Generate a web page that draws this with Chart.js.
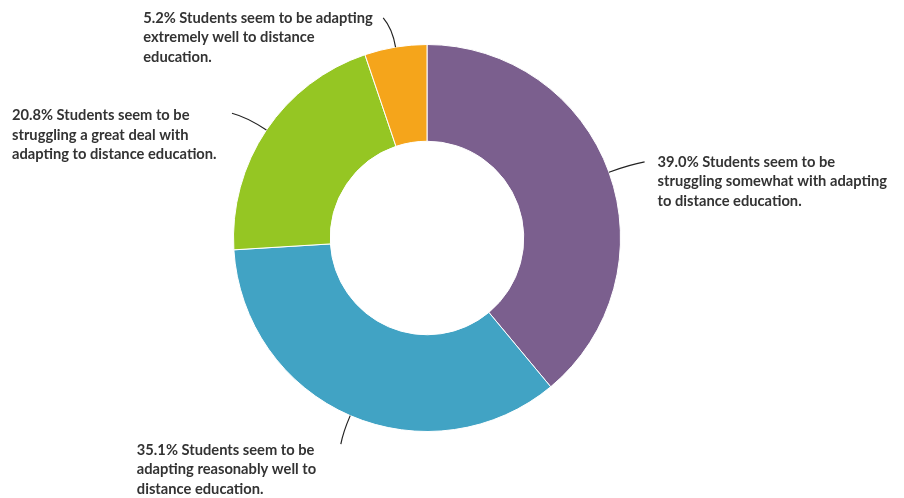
<!DOCTYPE html>
<html>
<head>
<meta charset="utf-8">
<script src="https://cdn.jsdelivr.net/npm/chart.js@4.4.1/dist/chart.umd.min.js"></script>
<style>
  html, body { margin: 0; padding: 0; background: #fff; }
  #wrap { width: 904px; height: 498px; }
</style>
</head>
<body>
<div id="wrap"><canvas id="donut"></canvas></div>
<script>
const categories = [
  ["Students seem to be", "struggling somewhat with adapting", "to distance education."],
  ["Students seem to be", "adapting reasonably well to", "distance education."],
  ["Students seem to be", "struggling a great deal with", "adapting to distance education."],
  ["Students seem to be adapting", "extremely well to distance", "education."]
];
const shares = [39.0, 35.1, 20.8, 5.2];
const colors = ["#7B5F8E", "#41A3C4", "#95C623", "#F5A51B"];

// leader end: angle offset (deg) and extra radius; label offset from leader end
const labelLayout = [
  { da: 0.6, dr: 37, dx: 13, dy: 0 },
  { da: -0.7, dr: 30, dx: -204, dy: 6 },
  { da: -1.3, dr: 38, dx: -220, dy: 2 },
  { da: -1.9, dr: 31, dx: -240, dy: 0 }
];

const leaderLabels = {
  id: 'leaderLabels',
  afterDatasetsDraw(chart) {
    const ctx = chart.ctx;
    const arcs = chart.getDatasetMeta(0).data;
    ctx.save();
    ctx.font = 'bold 14.7px Lato, "Open Sans", sans-serif';
    ctx.textBaseline = 'middle';
    ctx.textAlign = 'left';
    arcs.forEach((arc, i) => {
      const lay = labelLayout[i];
      const mid = (arc.startAngle + arc.endAngle) / 2;
      const r = arc.outerRadius;
      const sx = arc.x + Math.cos(mid) * r, sy = arc.y + Math.sin(mid) * r;
      const cx = arc.x + Math.cos(mid) * (r + lay.dr * 0.6), cy = arc.y + Math.sin(mid) * (r + lay.dr * 0.6);
      const ea = mid + lay.da * Math.PI / 180;
      const ex = arc.x + Math.cos(ea) * (r + lay.dr), ey = arc.y + Math.sin(ea) * (r + lay.dr);
      ctx.strokeStyle = '#222';
      ctx.lineWidth = 1.2;
      ctx.beginPath();
      ctx.moveTo(sx, sy);
      ctx.quadraticCurveTo(cx, cy, ex, ey);
      ctx.stroke();

      const lines = categories[i].slice();
      lines[0] = shares[i].toFixed(1) + '% ' + lines[0];
      const tx = ex + lay.dx;
      ctx.fillStyle = '#333';
      lines.forEach((ln, k) => ctx.fillText(ln, tx, ey + lay.dy + k * 19.5));
    });
    ctx.restore();
  }
};

new Chart(document.getElementById('donut'), {
  type: 'doughnut',
  data: {
    labels: categories.map(c => c.join(' ')),
    datasets: [{
      data: shares,
      backgroundColor: colors,
      borderColor: '#fff',
      borderWidth: 1
    }]
  },
  options: {
    responsive: true,
    maintainAspectRatio: false,
    animation: false,
    cutout: '50%',
    layout: { padding: { top: 44, bottom: 66, left: 0, right: 50 } },
    plugins: {
      legend: { display: false },
      tooltip: { enabled: false }
    }
  },
  plugins: [leaderLabels]
});
</script>
</body>
</html>
